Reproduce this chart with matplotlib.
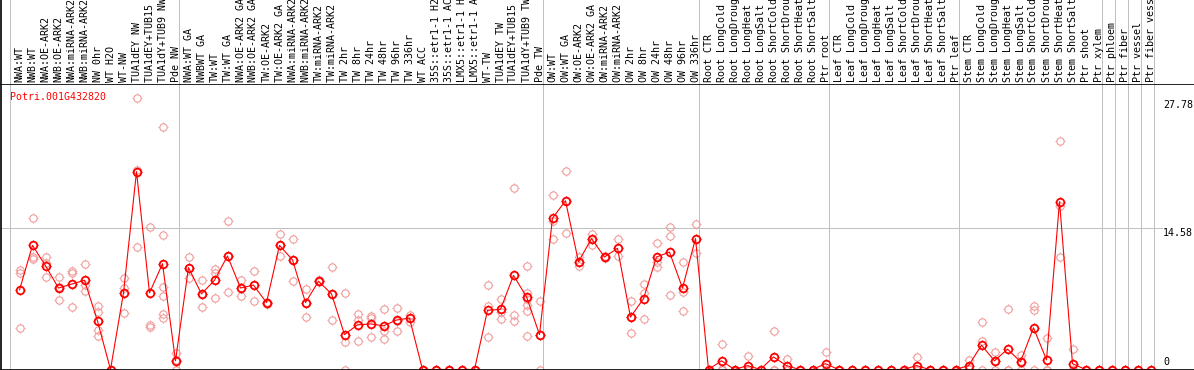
import matplotlib
matplotlib.use('Agg')
import matplotlib.pyplot as plt
from matplotlib.path import Path

labels = [
    "NWA:WT", "NWB:WT", "NWA:OE-ARK2", "NWB:OE-ARK2", "NWA:miRNA-ARK2", "NWB:miRNA-ARK2",
    "NW 0hr", "WT H2O", "WT-NW", "TUA1dEY NW", "TUA1dEY+TUB15 NW", "TUA1dY+TUB9 NW", "Pde NW",
    "NWA:WT GA", "NWBWT GA", "TW:WT", "TW:WT GA", "NWA:OE-ARK2 GA", "NWB:OE-ARK2 GA",
    "TW:OE-ARK2", "TW:OE-ARK2 GA", "NWA:miRNA-ARK2 GA", "NWB:miRNA-ARK2 GA", "TW:miRNA-ARK2",
    "TW:miRNA-ARK2 GA", "TW 2hr", "TW 8hr", "TW 24hr", "TW 48hr", "TW 96hr", "TW 336hr",
    "WT ACC", "35S::etr1-1 H2O", "35S::etr1-1 ACC", "LMX5::etr1-1 H2O", "LMX5::etr1-1 ACC",
    "WT-TW", "TUA1dEY TW", "TUA1dEY+TUB15 TW", "TUA1dY+TUB9 TW", "Pde TW",
    "OW:WT", "OW:WT GA", "OW:OE-ARK2", "OW:OE-ARK2 GA", "OW:miRNA-ARK2", "OW:miRNA-ARK2 GA",
    "OW 2hr", "OW 8hr", "OW 24hr", "OW 48hr", "OW 96hr", "OW 336hr",
    "Root CTR", "Root LongCold", "Root LongDrought", "Root LongHeat", "Root LongSalt",
    "Root ShortCold", "Root ShortDrought", "Root ShortHeat", "Root ShortSalt", "Ptr root",
    "Leaf CTR", "Leaf LongCold", "Leaf LongDrought", "Leaf LongHeat", "Leaf LongSalt",
    "Leaf ShortCold", "Leaf ShortDrought", "Leaf ShortHeat", "Leaf ShortSalt", "Ptr leaf",
    "Stem CTR", "Stem LongCold", "Stem LongDrought", "Stem LongHeat", "Stem LongSalt",
    "Stem ShortCold", "Stem ShortDrought", "Stem ShortHeat", "Stem ShortSalt", "Ptr shoot",
    "Ptr xylem", "Ptr phloem", "Ptr fiber", "Ptr vessel", "Ptr fiber vessel",
]

means = [
    8.2, 12.8, 10.7, 8.4, 8.8, 9.2, 5.0, 0.0, 7.9, 20.4, 7.9, 10.9, 0.9,
    10.5, 7.8, 9.2, 11.7, 8.4, 8.7, 6.9, 12.8, 11.3, 6.9, 9.1, 7.8,
    3.6, 4.6, 4.7, 4.5, 5.1, 5.3, 0.0, 0.0, 0.0, 0.0, 0.0,
    6.1, 6.2, 9.7, 7.5, 3.6,
    15.6, 17.4, 11.1, 13.5, 11.6, 12.5, 5.4, 7.3, 11.6, 12.1, 8.4, 13.5,
    0.0, 0.9, 0.0, 0.4, 0.0, 1.3, 0.4, 0.0, 0.0, 0.6,
    0.0, 0.0, 0.0, 0.0, 0.0, 0.0, 0.4, 0.0, 0.0, 0.0,
    0.4, 2.5, 0.9, 2.1, 0.8, 4.3, 1.0, 17.3, 0.6, 0.0,
    0.0, 0.0, 0.0, 0.0, 0.0,
]

reps = [
    [10.3, 10.0, 4.3], [15.6, 11.6, 11.4], [11.6, 9.5, 11.0], [9.5, 7.2, 8.5],
    [10.2, 10.0, 6.4], [10.9, 8.7, 8.1], [6.5, 5.9, 4.1, 3.5], [0, 0, 0],
    [9.4, 8.4, 5.8], [28.0, 12.6, 20.6], [14.7, 4.6, 4.4],
    [25.0, 13.9, 8.5, 7.6, 5.7, 5.3], [1.7, 0.0, 1.0],
    [11.6, 9.4, 10.5], [9.2, 6.4, 7.8], [10.4, 10.0, 7.4], [15.3, 8.0, 11.7],
    [9.2, 7.6, 8.4], [10.2, 7.1, 8.7], [6.9, 6.8, 7.0], [14.0, 11.7, 12.8],
    [13.5, 9.1, 11.3], [8.3, 5.4, 6.9], [9.2, 9.0, 9.1], [10.6, 5.1, 7.8],
    [7.9, 2.8, 0.0], [5.7, 5.1, 2.9], [5.5, 5.3, 3.3], [6.2, 4.0, 3.1],
    [6.3, 4.0, 5.0], [5.6, 4.9, 5.3],
    [0, 0, 0], [0, 0, 0], [0, 0, 0], [0, 0, 0], [0, 0, 0],
    [8.7, 6.5, 3.3], [7.3, 5.9, 5.2], [18.7, 5.6, 5.0],
    [10.7, 7.9, 7.3, 6.6, 6.0, 3.5], [7.1, 0.0, 3.6],
    [18.0, 15.3, 13.5], [20.5, 14.1, 17.4], [11.6, 10.7, 11.1], [14.0, 12.8, 13.5],
    [11.6, 11.5, 11.7], [13.5, 11.7, 12.5], [7.1, 3.8, 5.4], [8.8, 7.9, 5.2],
    [13.0, 11.1, 10.6], [14.7, 13.8, 7.7], [11.1, 8.0, 6.0], [15.0, 12.0, 13.5],
    [0, 0, 0], [2.6, 0.0, 0.1], [0, 0, 0], [1.4, 0.0, 0.0], [0, 0, 0],
    [4.0, 0.0, 0.0], [1.1, 0.0, 0.0], [0, 0, 0], [0, 0, 0], [1.8, 0.0, 0.0],
    [0, 0, 0], [0, 0, 0], [0, 0, 0], [0, 0, 0], [0, 0, 0],
    [0, 0, 0], [1.3, 0.0, 0.0], [0, 0, 0], [0, 0, 0], [0, 0, 0],
    [1.0, 0.1, 0.1], [4.9, 2.9, 0.0], [1.8, 0.0, 0.9], [6.2, 0.0, 0.0],
    [1.5, 0.0, 0.9], [6.5, 6.1, 0.0], [3.2, 0.0, 0.0], [23.6, 16.9, 11.6],
    [2.1, 0.0, 0.0], [0, 0, 0],
    [0, 0, 0], [0, 0, 0], [0, 0, 0], [0, 0, 0], [0, 0, 0],
]

group_starts = [0, 13, 41, 53, 63, 73, 84, 85, 86, 87, 88]
gene = "Potri.001G432820"
ymax_label = 27.78
ymid_label = 14.58

# ---- layout (pixels) ----
W, H = 1194, 370
HEAD = 85
X0, DX = 19.5, 13.0
PXU = 9.70          # pixels per unit
Y0PIX = 369.5       # pixel row of value 0

def xi(px):
    return (px - X0) / DX

fig = plt.figure(figsize=(W / 100, H / 100), dpi=100)
ax = fig.add_axes([0, 0, 1, (H - HEAD) / H])
lab = fig.add_axes([0, (H - HEAD) / H, 1, HEAD / H], sharex=ax)
for a in (ax, lab):
    a.set_axis_off()
ax.set_xlim(xi(0), xi(W))
ax.set_ylim(-(H - Y0PIX) / PXU, (Y0PIX - HEAD) / PXU)
lab.set_ylim(0, HEAD)

grid_c = '#c0c0c0'
lw1 = 0.72
for k in group_starts:
    xs = k - 9.5 / DX
    ax.axvline(xs, color=grid_c, lw=lw1, zorder=1)
    lab.axvline(xs, color=grid_c, lw=lw1, zorder=1)

ax.plot([xi(0), xi(1162)], [ymid_label, ymid_label], color=grid_c, lw=lw1, zorder=1)

# black frame lines
ax.axhline(0, color='black', lw=1.2, zorder=5)
lab.axhline(0.3, color='black', lw=1.2, zorder=5)
ax.axvline(xi(1.2), color='black', lw=1.2, zorder=5)
lab.axvline(xi(1.2), color='black', lw=1.2, zorder=5)

mono = 'DejaVu Sans Mono'
for i, t in enumerate(labels):
    lab.text(i, 2.5, t, rotation=90, ha='center', va='bottom',
             family=mono, fontsize=7.2, color='black', clip_on=False)

# nubs marker (pixel-style ticks around circles)
nub = Path([(0, 0.8), (0, 1.0), (0, -0.8), (0, -1.0), (0.8, 0), (1.0, 0), (-0.8, 0), (-1.0, 0)],
           [Path.MOVETO, Path.LINETO] * 4)

pink = '#f09a9a'
for i, rv in enumerate(reps):
    xs = [i] * len(rv)
    ax.plot(xs, rv, ls='none', marker='o', ms=5.3, mfc='none', mec=pink, mew=0.8,
            zorder=2, clip_on=False)
    ax.plot(xs, rv, ls='none', marker=nub, ms=7.0, mec=pink, mew=0.7, zorder=2, clip_on=False)

xm = list(range(len(means)))
ax.plot(xm, means, color='red', lw=0.8, zorder=3, clip_on=False)
ax.plot(xm, means, ls='none', marker='o', ms=5.5, mfc='none', mec='red', mew=1.3,
        zorder=4, clip_on=False)
ax.plot(xm, means, ls='none', marker=nub, ms=7.4, mec='red', mew=0.8, zorder=4, clip_on=False)

ax.text(xi(10), (Y0PIX - 97) / PXU, gene, color='red', family=mono, fontsize=7.1,
        ha='left', va='center')

ax.text(xi(1163), ymax_label, f"{ymax_label:.2f}", family=mono, fontsize=7.2,
        ha='left', va='top', color='black', clip_on=False)
ax.text(xi(1163), ymid_label, f"{ymid_label:.2f}", family=mono, fontsize=7.2,
        ha='left', va='top', color='black', clip_on=False)
ax.text(xi(1163), 0.3, "0", family=mono, fontsize=7.2,
        ha='left', va='bottom', color='black', clip_on=False)

fig.savefig('out.png', dpi=100)
